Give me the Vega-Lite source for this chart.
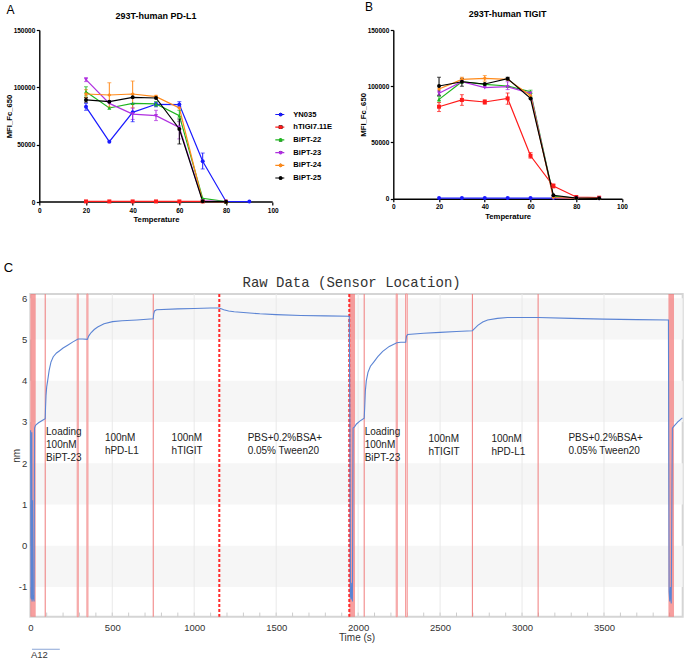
{
 "$schema": "https://vega.github.io/schema/vega-lite/v6.json",
 "padding": {"left": 2.3, "top": 0, "right": 0, "bottom": 0},
 "spacing": 37,
 "config": {
   "font": "Liberation Sans",
   "view": {"stroke": null},
   "axis": {"grid": false},
   "legend": {"title": null}
 },
 "datasets": {
   "pdl1": [
     {"series": "YN035", "temp": 20, "mfi": 83000, "lo": 80000, "hi": 86000},
     {"series": "YN035", "temp": 30, "mfi": 52600},
     {"series": "YN035", "temp": 40, "mfi": 78200, "lo": 70000, "hi": 86000},
     {"series": "YN035", "temp": 50, "mfi": 85200, "lo": 83000, "hi": 87000},
     {"series": "YN035", "temp": 60, "mfi": 85000, "lo": 83000, "hi": 87500},
     {"series": "YN035", "temp": 70, "mfi": 35500, "lo": 28800, "hi": 42700},
     {"series": "YN035", "temp": 80, "mfi": 500},
     {"series": "YN035", "temp": 90, "mfi": 400},
     {"series": "hTIGI7.11E", "temp": 20, "mfi": 500},
     {"series": "hTIGI7.11E", "temp": 30, "mfi": 500},
     {"series": "hTIGI7.11E", "temp": 40, "mfi": 500},
     {"series": "hTIGI7.11E", "temp": 50, "mfi": 500},
     {"series": "hTIGI7.11E", "temp": 60, "mfi": 500},
     {"series": "hTIGI7.11E", "temp": 70, "mfi": 500},
     {"series": "hTIGI7.11E", "temp": 80, "mfi": 300},
     {"series": "BiPT-22", "temp": 20, "mfi": 96200, "lo": 92500, "hi": 100500},
     {"series": "BiPT-22", "temp": 30, "mfi": 82000},
     {"series": "BiPT-22", "temp": 40, "mfi": 86000},
     {"series": "BiPT-22", "temp": 50, "mfi": 85500, "lo": 83500, "hi": 87500},
     {"series": "BiPT-22", "temp": 60, "mfi": 75300, "lo": 70500, "hi": 80000},
     {"series": "BiPT-22", "temp": 70, "mfi": 3200},
     {"series": "BiPT-22", "temp": 80, "mfi": 300},
     {"series": "BiPT-23", "temp": 20, "mfi": 106700, "lo": 105000, "hi": 108500},
     {"series": "BiPT-23", "temp": 30, "mfi": 86000},
     {"series": "BiPT-23", "temp": 40, "mfi": 76700, "lo": 72000, "hi": 82000},
     {"series": "BiPT-23", "temp": 50, "mfi": 75300, "lo": 71000, "hi": 80000},
     {"series": "BiPT-23", "temp": 60, "mfi": 65100, "lo": 55000, "hi": 70000},
     {"series": "BiPT-23", "temp": 70, "mfi": 900},
     {"series": "BiPT-23", "temp": 80, "mfi": 300},
     {"series": "BiPT-24", "temp": 20, "mfi": 94200, "lo": 91000, "hi": 98000},
     {"series": "BiPT-24", "temp": 30, "mfi": 93300, "lo": 83000, "hi": 104000},
     {"series": "BiPT-24", "temp": 40, "mfi": 94200, "lo": 82000, "hi": 105500},
     {"series": "BiPT-24", "temp": 50, "mfi": 91900, "lo": 91000, "hi": 93000},
     {"series": "BiPT-24", "temp": 60, "mfi": 82000},
     {"series": "BiPT-24", "temp": 70, "mfi": 600},
     {"series": "BiPT-24", "temp": 80, "mfi": 300},
     {"series": "BiPT-25", "temp": 20, "mfi": 89000, "lo": 87000, "hi": 91000},
     {"series": "BiPT-25", "temp": 30, "mfi": 87500},
     {"series": "BiPT-25", "temp": 40, "mfi": 91300},
     {"series": "BiPT-25", "temp": 50, "mfi": 90700},
     {"series": "BiPT-25", "temp": 60, "mfi": 63700, "lo": 50600, "hi": 72400},
     {"series": "BiPT-25", "temp": 70, "mfi": 600},
     {"series": "BiPT-25", "temp": 80, "mfi": 300}
   ],
   "tigit": [
     {"series": "YN035", "temp": 20, "mfi": 600},
     {"series": "YN035", "temp": 30, "mfi": 600},
     {"series": "YN035", "temp": 40, "mfi": 600},
     {"series": "YN035", "temp": 50, "mfi": 600},
     {"series": "YN035", "temp": 60, "mfi": 600},
     {"series": "YN035", "temp": 70, "mfi": 600},
     {"series": "YN035", "temp": 80, "mfi": 500},
     {"series": "YN035", "temp": 90, "mfi": 400},
     {"series": "hTIGI7.11E", "temp": 20, "mfi": 81800, "lo": 77500, "hi": 85500},
     {"series": "hTIGI7.11E", "temp": 30, "mfi": 87800, "lo": 83000, "hi": 92500},
     {"series": "hTIGI7.11E", "temp": 40, "mfi": 86000, "lo": 84000, "hi": 88000},
     {"series": "hTIGI7.11E", "temp": 50, "mfi": 89200, "lo": 84000, "hi": 94000},
     {"series": "hTIGI7.11E", "temp": 60, "mfi": 38200, "lo": 36000, "hi": 41000},
     {"series": "hTIGI7.11E", "temp": 70, "mfi": 11300, "lo": 9500, "hi": 13200},
     {"series": "hTIGI7.11E", "temp": 80, "mfi": 1500},
     {"series": "hTIGI7.11E", "temp": 90, "mfi": 900},
     {"series": "BiPT-22", "temp": 20, "mfi": 88300, "lo": 86000, "hi": 91000},
     {"series": "BiPT-22", "temp": 30, "mfi": 104000},
     {"series": "BiPT-22", "temp": 40, "mfi": 101700},
     {"series": "BiPT-22", "temp": 50, "mfi": 100200},
     {"series": "BiPT-22", "temp": 60, "mfi": 95200, "lo": 93500, "hi": 96500},
     {"series": "BiPT-22", "temp": 70, "mfi": 2100},
     {"series": "BiPT-22", "temp": 80, "mfi": 600},
     {"series": "BiPT-22", "temp": 90, "mfi": 300},
     {"series": "BiPT-23", "temp": 20, "mfi": 93700, "lo": 91500, "hi": 96000},
     {"series": "BiPT-23", "temp": 30, "mfi": 104000},
     {"series": "BiPT-23", "temp": 40, "mfi": 98700},
     {"series": "BiPT-23", "temp": 50, "mfi": 99600, "lo": 97000, "hi": 104000},
     {"series": "BiPT-23", "temp": 60, "mfi": 93700},
     {"series": "BiPT-23", "temp": 70, "mfi": 900},
     {"series": "BiPT-23", "temp": 80, "mfi": 400},
     {"series": "BiPT-23", "temp": 90, "mfi": 300},
     {"series": "BiPT-24", "temp": 20, "mfi": 97500},
     {"series": "BiPT-24", "temp": 30, "mfi": 106100, "lo": 104000, "hi": 108000},
     {"series": "BiPT-24", "temp": 40, "mfi": 107000, "lo": 104500, "hi": 109500},
     {"series": "BiPT-24", "temp": 50, "mfi": 106100},
     {"series": "BiPT-24", "temp": 60, "mfi": 91600},
     {"series": "BiPT-24", "temp": 70, "mfi": 1000},
     {"series": "BiPT-24", "temp": 80, "mfi": 400},
     {"series": "BiPT-24", "temp": 90, "mfi": 300},
     {"series": "BiPT-25", "temp": 20, "mfi": 100200, "lo": 92000, "hi": 108000},
     {"series": "BiPT-25", "temp": 30, "mfi": 104000, "lo": 100000, "hi": 107000},
     {"series": "BiPT-25", "temp": 40, "mfi": 102000},
     {"series": "BiPT-25", "temp": 50, "mfi": 106700, "lo": 105500, "hi": 108000},
     {"series": "BiPT-25", "temp": 60, "mfi": 89200},
     {"series": "BiPT-25", "temp": 70, "mfi": 3000},
     {"series": "BiPT-25", "temp": 80, "mfi": 600},
     {"series": "BiPT-25", "temp": 90, "mfi": 300}
   ],
   "bands": [{"lo": 5, "hi": 6}, {"lo": 3, "hi": 4}, {"lo": 1, "hi": 2}, {"lo": -1, "hi": 0}],
   "grid500": [{"t": 500}, {"t": 1000}, {"t": 1500}, {"t": 2000}, {"t": 2500}, {"t": 3000}, {"t": 3500}],
   "minor": [{"t": 100}, {"t": 200}, {"t": 300}, {"t": 400}, {"t": 500}, {"t": 600}, {"t": 700}, {"t": 800}, {"t": 900}, {"t": 1000},
             {"t": 1100}, {"t": 1200}, {"t": 1300}, {"t": 1400}, {"t": 1500}, {"t": 1600}, {"t": 1700}, {"t": 1800}, {"t": 1900}, {"t": 2000},
             {"t": 2100}, {"t": 2200}, {"t": 2300}, {"t": 2400}, {"t": 2500}, {"t": 2600}, {"t": 2700}, {"t": 2800}, {"t": 2900}, {"t": 3000},
             {"t": 3100}, {"t": 3200}, {"t": 3300}, {"t": 3400}, {"t": 3500}, {"t": 3600}, {"t": 3700}, {"t": 3800}, {"t": 3900}],
   "pinks": [{"t0": 286, "t1": 293}, {"t0": 345, "t1": 352}, {"t0": 2232, "t1": 2239}, {"t0": 2289, "t1": 2300}],
   "regen": [{"t0": 0, "t1": 33}, {"t0": 1946, "t1": 1981}, {"t0": 3893, "t1": 3927}],
   "steps": [{"t": 91}, {"t": 750}, {"t": 2037}, {"t": 2697}, {"t": 3098}],
   "dashed": [{"t": 1153}, {"t": 1946}],
   "notes": [
     {"t": 96, "nm": 2.88, "label": "Loading\n100nM\nBiPT-23"},
     {"t": 455, "nm": 2.73, "label": "100nM\nhPD-L1"},
     {"t": 862, "nm": 2.73, "label": "100nM\nhTIGIT"},
     {"t": 1326, "nm": 2.73, "label": "PBS+0.2%BSA+\n0.05% Tween20"},
     {"t": 2040, "nm": 2.88, "label": "Loading\n100nM\nBiPT-23"},
     {"t": 2429, "nm": 2.71, "label": "100nM\nhTIGIT"},
     {"t": 2813, "nm": 2.71, "label": "100nM\nhPD-L1"},
     {"t": 3283, "nm": 2.73, "label": "PBS+0.2%BSA+\n0.05% Tween20"}
   ],
   "curve": [
     {"t": 2, "nm": 2.8}, {"t": 4, "nm": -1.25}, {"t": 7, "nm": -1.3}, {"t": 9, "nm": 2.75}, {"t": 11, "nm": -1.35},
     {"t": 14, "nm": 1.1}, {"t": 16, "nm": -1.3}, {"t": 20, "nm": -1.2}, {"t": 23, "nm": -1.35}, {"t": 26, "nm": 2.85},
     {"t": 30, "nm": 2.9}, {"t": 35, "nm": 2.93}, {"t": 50, "nm": 2.98}, {"t": 70, "nm": 3.03}, {"t": 91, "nm": 3.08},
     {"t": 93, "nm": 3.35}, {"t": 96, "nm": 3.65}, {"t": 100, "nm": 3.85}, {"t": 106, "nm": 4.0}, {"t": 115, "nm": 4.25},
     {"t": 126, "nm": 4.45}, {"t": 140, "nm": 4.58}, {"t": 160, "nm": 4.67}, {"t": 177, "nm": 4.72}, {"t": 200, "nm": 4.79},
     {"t": 228, "nm": 4.86}, {"t": 260, "nm": 4.94}, {"t": 291, "nm": 5.01}, {"t": 320, "nm": 5.01}, {"t": 348, "nm": 5.0},
     {"t": 356, "nm": 5.08}, {"t": 370, "nm": 5.16}, {"t": 390, "nm": 5.24}, {"t": 411, "nm": 5.3}, {"t": 450, "nm": 5.38},
     {"t": 502, "nm": 5.43}, {"t": 560, "nm": 5.45}, {"t": 650, "nm": 5.47}, {"t": 750, "nm": 5.5}, {"t": 753, "nm": 5.62},
     {"t": 758, "nm": 5.69}, {"t": 770, "nm": 5.72}, {"t": 900, "nm": 5.74}, {"t": 1000, "nm": 5.75}, {"t": 1100, "nm": 5.76},
     {"t": 1153, "nm": 5.76}, {"t": 1180, "nm": 5.72}, {"t": 1210, "nm": 5.69}, {"t": 1244, "nm": 5.67}, {"t": 1300, "nm": 5.65},
     {"t": 1400, "nm": 5.62}, {"t": 1500, "nm": 5.6}, {"t": 1650, "nm": 5.58}, {"t": 1800, "nm": 5.57}, {"t": 1946, "nm": 5.56},
     {"t": 1950, "nm": 2.9}, {"t": 1953, "nm": -1.2}, {"t": 1957, "nm": -1.3}, {"t": 1961, "nm": -0.9}, {"t": 1965, "nm": -1.35},
     {"t": 1969, "nm": 2.85}, {"t": 1978, "nm": 2.88}, {"t": 1990, "nm": 2.95}, {"t": 2010, "nm": 3.02}, {"t": 2037, "nm": 3.09},
     {"t": 2040, "nm": 3.35}, {"t": 2044, "nm": 3.75}, {"t": 2050, "nm": 4.0}, {"t": 2060, "nm": 4.2}, {"t": 2075, "nm": 4.35},
     {"t": 2095, "nm": 4.45}, {"t": 2120, "nm": 4.58}, {"t": 2150, "nm": 4.71}, {"t": 2190, "nm": 4.83}, {"t": 2236, "nm": 4.92},
     {"t": 2260, "nm": 4.93}, {"t": 2290, "nm": 4.93}, {"t": 2295, "nm": 5.08}, {"t": 2302, "nm": 5.12}, {"t": 2400, "nm": 5.15},
     {"t": 2500, "nm": 5.17}, {"t": 2600, "nm": 5.19}, {"t": 2697, "nm": 5.21}, {"t": 2710, "nm": 5.26}, {"t": 2730, "nm": 5.34},
     {"t": 2760, "nm": 5.42}, {"t": 2790, "nm": 5.47}, {"t": 2850, "nm": 5.51}, {"t": 2911, "nm": 5.53}, {"t": 3000, "nm": 5.53},
     {"t": 3098, "nm": 5.53}, {"t": 3300, "nm": 5.51}, {"t": 3500, "nm": 5.49}, {"t": 3700, "nm": 5.48}, {"t": 3893, "nm": 5.47},
     {"t": 3897, "nm": -1.1}, {"t": 3901, "nm": -1.35}, {"t": 3905, "nm": -1.0}, {"t": 3910, "nm": -1.4}, {"t": 3917, "nm": 2.85},
     {"t": 3927, "nm": 2.9}, {"t": 3950, "nm": 3.0}, {"t": 3978, "nm": 3.1}
   ]
 },
 "vconcat": [
   {
     "spacing": 80,
     "hconcat": [
       {
         "width": 242.4, "height": 172,
         "data": {"name": "pdl1"},
         "layer": [
           {"data": {"values": [{}]},
            "mark": {"type": "rule", "color": "#000", "strokeWidth": 1.4},
            "encoding": {"x": {"datum": 0}, "x2": {"datum": 100}, "y": {"datum": 0}}},
           {"mark": {"type": "line", "strokeWidth": 1.2},
            "encoding": {
              "x": {"field": "temp", "type": "quantitative", "title": "Temperature", "scale": {"domain": [-3.857, 100], "nice": false, "zero": false},
                    "axis": {"values": [0,10,20,30,40,50,60,70,80,90,100], "domain": false, "titleFontSize": 7.7, "titleFontWeight": "bold", "titleColor": "#000", "titlePadding": 2, "titleX": 125.7, "labelFontSize": 6.5, "labelFontWeight": "bold", "labelColor": "#000", "tickColor": "#000", "tickSize": 3, "tickWidth": 1.2, "labelPadding": 2, "labelFlush": false, "labelOverlap": false}},
              "y": {"field": "mfi", "type": "quantitative", "title": "MFI_Fc_650", "scale": {"domain": [0, 150000], "nice": false},
                    "axis": {"values": [0, 50000, 100000, 150000], "format": "d", "offset": -9, "titleFontSize": 7.7, "titleFontWeight": "bold", "titleColor": "#000", "titlePadding": 0, "labelFontSize": 6.5, "labelFontWeight": "bold", "labelColor": "#000", "domainColor": "#000", "domainWidth": 1.4, "tickColor": "#000", "tickSize": 3, "tickWidth": 1.2, "labelPadding": 1.5, "labelFlush": false, "labelOverlap": false}},
              "stroke": {"field": "series", "type": "nominal",
                        "scale": {"domain": ["YN035", "hTIGI7.11E", "BiPT-22", "BiPT-23", "BiPT-24", "BiPT-25"], "range": ["#1a1aff", "#ff1a1a", "#1fb51f", "#b030e0", "#ff8a1a", "#000000"]},
                        "legend": {"orient": "none", "legendX": 244, "legendY": 80, "title": null, "padding": 0, "symbolType": "stroke", "symbolSize": 81, "symbolStrokeWidth": 1.2, "clipHeight": 9, "rowPadding": 3.7, "labelFontSize": 7.6, "labelFontWeight": "bold", "labelColor": "#000", "labelOffset": 8}}
            }},
           {"transform": [{"filter": "datum.lo != null"}],
            "mark": {"type": "errorbar", "ticks": {"size": 4}, "rule": {"strokeWidth": 1}},
            "encoding": {
              "x": {"field": "temp", "type": "quantitative", "title": "Temperature"},
              "y": {"field": "lo", "type": "quantitative", "title": "MFI_Fc_650"},
              "y2": {"field": "hi"},
              "color": {"field": "series", "type": "nominal", "legend": null,
                        "scale": {"domain": ["YN035", "hTIGI7.11E", "BiPT-22", "BiPT-23", "BiPT-24", "BiPT-25"], "range": ["#1a1aff", "#ff1a1a", "#1fb51f", "#b030e0", "#ff8a1a", "#000000"]}}
            }},
           {"mark": {"type": "point", "filled": true, "size": 16, "opacity": 1},
            "encoding": {
              "x": {"field": "temp", "type": "quantitative", "title": "Temperature"},
              "y": {"field": "mfi", "type": "quantitative", "title": "MFI_Fc_650"},
              "fill": {"field": "series", "type": "nominal", "sort": ["YN035", "hTIGI7.11E", "BiPT-22", "BiPT-23", "BiPT-24", "BiPT-25"],
                       "scale": {"range": ["#1a1aff", "#ff1a1a", "#1fb51f", "#b030e0", "#ff8a1a", "#000000"]},
                       "legend": {"orient": "none", "legendX": 246.5, "legendY": 80, "title": null, "padding": 0, "symbolSize": 14, "symbolStrokeWidth": 0, "clipHeight": 9, "rowPadding": 3.7, "labelFontSize": 7.6, "labelExpr": "''", "labelOffset": 8}},
              "shape": {"field": "series", "type": "nominal", "sort": ["YN035", "hTIGI7.11E", "BiPT-22", "BiPT-23", "BiPT-24", "BiPT-25"],
                        "scale": {"range": ["circle", "square", "triangle-up", "triangle-down", "diamond", "circle"]},
                        "legend": {"orient": "none", "legendX": 246.5, "legendY": 80, "title": null, "padding": 0, "symbolSize": 14, "symbolStrokeWidth": 0, "clipHeight": 9, "rowPadding": 3.7, "labelFontSize": 7.6, "labelExpr": "''", "labelOffset": 8}}
            }},
           {"data": {"values": [{}]},
            "mark": {"type": "text", "fontSize": 12, "align": "center", "baseline": "middle", "color": "#000"},
            "encoding": {"x": {"datum": -12.3}, "y": {"datum": 167500}, "text": {"value": "A"}}},
           {"data": {"values": [{}]},
            "mark": {"type": "text", "fontSize": 9, "fontWeight": "bold", "align": "center", "baseline": "middle", "color": "#000"},
            "encoding": {"x": {"datum": 50}, "y": {"datum": 162500}, "text": {"value": "293T-human PD-L1"}}}
         ]
       },
       {
         "width": 228.7, "height": 168.7,
         "data": {"name": "tigit"},
         "layer": [
           {"mark": {"type": "line", "strokeWidth": 1.2},
            "encoding": {
              "x": {"field": "temp", "type": "quantitative", "title": "Temperature", "scale": {"domain": [0, 100], "nice": false},
                    "axis": {"values": [0,10,20,30,40,50,60,70,80,90,100], "titleFontSize": 7.7, "titleFontWeight": "bold", "titleColor": "#000", "titlePadding": 2, "labelFontSize": 6.5, "labelFontWeight": "bold", "labelColor": "#000", "domainColor": "#000", "domainWidth": 1.4, "tickColor": "#000", "tickSize": 3, "tickWidth": 1.2, "labelPadding": 2, "labelFlush": false, "labelOverlap": false}},
              "y": {"field": "mfi", "type": "quantitative", "title": "MFI_Fc_650", "scale": {"domain": [0, 150000], "nice": false},
                    "axis": {"values": [0, 50000, 100000, 150000], "format": "d", "titleFontSize": 7.7, "titleFontWeight": "bold", "titleColor": "#000", "titlePadding": 0, "labelFontSize": 6.5, "labelFontWeight": "bold", "labelColor": "#000", "domainColor": "#000", "domainWidth": 1.4, "tickColor": "#000", "tickSize": 3, "tickWidth": 1.2, "labelPadding": 1.5, "labelFlush": false, "labelOverlap": false}},
              "stroke": {"field": "series", "type": "nominal",
                        "scale": {"domain": ["YN035", "hTIGI7.11E", "BiPT-22", "BiPT-23", "BiPT-24", "BiPT-25"], "range": ["#1a1aff", "#ff1a1a", "#1fb51f", "#b030e0", "#ff8a1a", "#000000"]},
                        "legend": {"orient": "none", "legendX": 235, "legendY": 79.5, "title": null, "padding": 0, "symbolType": "stroke", "symbolSize": 81, "symbolStrokeWidth": 1.2, "clipHeight": 9, "rowPadding": 3.2, "labelFontSize": 7.6, "labelFontWeight": "bold", "labelColor": "#000", "labelOffset": 4}}
            }},
           {"transform": [{"filter": "datum.lo != null"}],
            "mark": {"type": "errorbar", "ticks": {"size": 4}, "rule": {"strokeWidth": 1}},
            "encoding": {
              "x": {"field": "temp", "type": "quantitative", "title": "Temperature"},
              "y": {"field": "lo", "type": "quantitative", "title": "MFI_Fc_650"},
              "y2": {"field": "hi"},
              "color": {"field": "series", "type": "nominal", "legend": null,
                        "scale": {"domain": ["YN035", "hTIGI7.11E", "BiPT-22", "BiPT-23", "BiPT-24", "BiPT-25"], "range": ["#1a1aff", "#ff1a1a", "#1fb51f", "#b030e0", "#ff8a1a", "#000000"]}}
            }},
           {"mark": {"type": "point", "filled": true, "size": 16, "opacity": 1},
            "encoding": {
              "x": {"field": "temp", "type": "quantitative", "title": "Temperature"},
              "y": {"field": "mfi", "type": "quantitative", "title": "MFI_Fc_650"},
              "fill": {"field": "series", "type": "nominal", "sort": ["YN035", "hTIGI7.11E", "BiPT-22", "BiPT-23", "BiPT-24", "BiPT-25"],
                       "scale": {"range": ["#1a1aff", "#ff1a1a", "#1fb51f", "#b030e0", "#ff8a1a", "#000000"]},
                       "legend": {"orient": "none", "legendX": 237.5, "legendY": 79.5, "title": null, "padding": 0, "symbolSize": 14, "symbolStrokeWidth": 0, "clipHeight": 9, "rowPadding": 3.2, "labelFontSize": 7.6, "labelExpr": "''", "labelOffset": 4}},
              "shape": {"field": "series", "type": "nominal", "sort": ["YN035", "hTIGI7.11E", "BiPT-22", "BiPT-23", "BiPT-24", "BiPT-25"],
                        "scale": {"range": ["circle", "square", "triangle-up", "triangle-down", "diamond", "circle"]},
                        "legend": {"orient": "none", "legendX": 237.5, "legendY": 79.5, "title": null, "padding": 0, "symbolSize": 14, "symbolStrokeWidth": 0, "clipHeight": 9, "rowPadding": 3.2, "labelFontSize": 7.6, "labelExpr": "''", "labelOffset": 4}}
            }},
           {"data": {"values": [{}]},
            "mark": {"type": "text", "fontSize": 12, "align": "center", "baseline": "middle", "color": "#000"},
            "encoding": {"x": {"datum": -10.6}, "y": {"datum": 170800}, "text": {"value": "B"}}},
           {"data": {"values": [{}]},
            "mark": {"type": "text", "fontSize": 9, "fontWeight": "bold", "align": "center", "baseline": "middle", "color": "#000"},
            "encoding": {"x": {"datum": 50}, "y": {"datum": 164200}, "text": {"value": "293T-human TIGIT"}}}
         ]
       }
     ]
   },
   {
     "width": 652.4, "height": 322.7,
     "view": {"stroke": "#d5d5d5", "strokeWidth": 2},
     "layer": [
       {"data": {"name": "bands"},
        "mark": {"type": "rect", "color": "#f6f6f6"},
        "encoding": {
          "y": {"field": "lo", "type": "quantitative", "title": "nm", "scale": {"domain": [-1.72, 6.1], "nice": false, "zero": false},
                "axis": {"values": [-1, 0, 1, 2, 3, 4, 5, 6], "labelExpr": "'' + datum.value", "ticks": false, "domain": false, "labelPadding": 3.5, "labelFontSize": 9.5, "labelColor": "#333", "titleFontSize": 10, "titleFontWeight": "normal", "titleColor": "#333", "titlePadding": -3.5}},
          "y2": {"field": "hi"}
        }},
       {"data": {"name": "grid500"},
        "mark": {"type": "rule", "color": "#e9e9e9", "strokeWidth": 1},
        "encoding": {
          "x": {"field": "t", "type": "quantitative", "title": "Time (s)", "scale": {"domain": [0, 3980], "nice": false, "zero": false},
                "axis": {"values": [0, 500, 1000, 1500, 2000, 2500, 3000, 3500], "format": "d", "labelFlush": false, "domain": false, "ticks": false, "tickSize": 0, "labelPadding": 6, "labelFontSize": 9.5, "labelColor": "#333", "titleFontSize": 10, "titleFontWeight": "normal", "titleColor": "#333", "titlePadding": 0}}
        }},
       {"data": {"name": "minor"},
        "mark": {"type": "rule", "color": "#cccccc", "strokeWidth": 1},
        "encoding": {
          "x": {"field": "t", "type": "quantitative", "title": "Time (s)"},
          "y": {"datum": -1.72}, "y2": {"datum": -1.62}
        }},
       {"data": {"name": "pinks"},
        "mark": {"type": "rect", "color": "#fcd6d6", "stroke": "#f28b8b", "strokeWidth": 0.8},
        "encoding": {"x": {"field": "t0", "type": "quantitative", "title": "Time (s)"}, "x2": {"field": "t1"}}},
       {"data": {"name": "regen"},
        "mark": {"type": "rect", "color": "#f26b6b", "opacity": 0.65},
        "encoding": {"x": {"field": "t0", "type": "quantitative", "title": "Time (s)"}, "x2": {"field": "t1"}}},
       {"data": {"name": "steps"},
        "mark": {"type": "rule", "color": "#f07b7b", "strokeWidth": 1},
        "encoding": {"x": {"field": "t", "type": "quantitative", "title": "Time (s)"}}},
       {"data": {"name": "dashed"},
        "mark": {"type": "rule", "color": "#ff2a2a", "strokeWidth": 2, "strokeDash": [3, 2]},
        "encoding": {"x": {"field": "t", "type": "quantitative", "title": "Time (s)"}}},
       {"data": {"name": "curve"},
        "mark": {"type": "line", "color": "#5b84d4", "strokeWidth": 1.1},
        "encoding": {
          "x": {"field": "t", "type": "quantitative", "title": "Time (s)"},
          "y": {"field": "nm", "type": "quantitative", "title": "nm"}
        }},
       {"data": {"name": "notes"},
        "mark": {"type": "text", "align": "left", "baseline": "top", "fontSize": 10, "lineBreak": "\n", "lineHeight": 13, "color": "#222"},
        "encoding": {
          "x": {"field": "t", "type": "quantitative", "title": "Time (s)"},
          "y": {"field": "nm", "type": "quantitative", "title": "nm"},
          "text": {"field": "label"}
        }},
       {"data": {"values": [{}]},
        "mark": {"type": "text", "fontSize": 13, "align": "center", "baseline": "middle", "color": "#000"},
        "encoding": {"x": {"datum": -134}, "y": {"datum": 6.73}, "text": {"value": "C"}}},
       {"data": {"values": [{}]},
        "mark": {"type": "text", "font": "Liberation Mono", "fontSize": 14, "align": "center", "baseline": "middle", "color": "#333"},
        "encoding": {"x": {"datum": 1960}, "y": {"datum": 6.37}, "text": {"value": "Raw Data (Sensor Location)"}}},
       {"data": {"values": [{}]},
        "mark": {"type": "rule", "color": "#9db4dd", "strokeWidth": 1.2},
        "encoding": {"x": {"datum": 10}, "x2": {"datum": 180}, "y": {"datum": -2.51}}},
       {"data": {"values": [{}]},
        "mark": {"type": "text", "fontSize": 9.5, "align": "left", "baseline": "middle", "color": "#333"},
        "encoding": {"x": {"datum": 4}, "y": {"datum": -2.64}, "text": {"value": "A12"}}}
     ]
   }
 ]
}
